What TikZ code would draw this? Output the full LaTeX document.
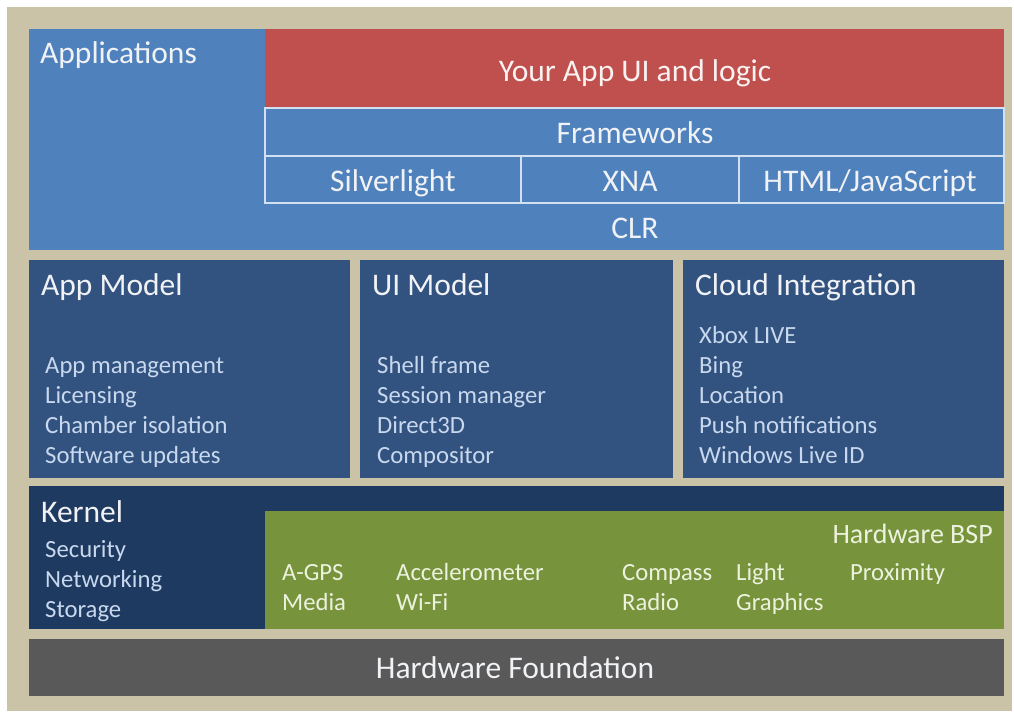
\documentclass[tikz,border=0pt]{standalone}
\usepackage{fontspec}
\setmainfont{Carlito}
\definecolor{beige}{RGB}{202,195,168}
\definecolor{appblue}{RGB}{79,129,189}
\definecolor{appred}{RGB}{192,80,77}
\definecolor{midblue}{RGB}{50,82,128}
\definecolor{kernblue}{RGB}{31,58,96}
\definecolor{bspgreen}{RGB}{119,147,60}
\definecolor{hwgray}{RGB}{89,89,89}
\definecolor{headtxt}{RGB}{240,242,245}
\definecolor{itemtxt}{RGB}{200,216,238}
\definecolor{greentxt}{RGB}{236,242,222}
\definecolor{gridline}{RGB}{210,225,242}
\begin{document}
\begin{tikzpicture}[x=1pt,y=-1pt,
  block/.style={draw=none,inner sep=0pt,outer sep=0pt,anchor=north west},
  cell/.style={draw=gridline,line width=1.5pt,fill=appblue,inner sep=0pt,outer sep=0pt,anchor=north west},
  head/.style={inner sep=0pt,text=headtxt,font=\fontsize{31.5}{36}\selectfont},
  item/.style={inner sep=0pt,anchor=base west,text=itemtxt,font=\fontsize{24.7}{30}\selectfont},
  gitem/.style={inner sep=0pt,anchor=base west,text=greentxt,font=\fontsize{24.7}{30}\selectfont}]
\useasboundingbox (0,0) rectangle (1014,713);
\fill[white] (0,0) rectangle (1014,713);
\fill[beige] (7,7) rectangle (1012,711);
% Applications layer
\node[block,fill=appblue,minimum width=975pt,minimum height=221pt] (apps) at (29,29) {};
\node[block,fill=appred,minimum width=739pt,minimum height=78pt] (yourapp) at (265,29) {};
\node[cell,minimum width=739pt,minimum height=48pt] (fw) at (265,108) {};
\node[cell,minimum width=256pt,minimum height=47pt] (sl) at (265,156) {};
\node[cell,minimum width=218pt,minimum height=47pt] (xna) at (521,156) {};
\node[cell,minimum width=265pt,minimum height=47pt] (html) at (739,156) {};
\node[head,anchor=base west] (tapps) at (40,63) {Applications};
\node[head,anchor=base,text=white!92!appred] (tyour) at (635,81) {Your App UI and logic};
\node[head,anchor=base] (tfw) at (635,143) {Frameworks};
\node[head,anchor=base] (tsl) at (393,191) {Silverlight};
\node[head,anchor=base] (txna) at (630,191) {XNA};
\node[head,anchor=base] (thtml) at (870,191) {HTML/JavaScript};
\node[head,anchor=base] (tclr) at (635,238) {CLR};
% Middle layer
\node[block,fill=midblue,minimum width=321pt,minimum height=218pt] (appmodel) at (29,260) {};
\node[block,fill=midblue,minimum width=313pt,minimum height=218pt] (uimodel) at (360,260) {};
\node[block,fill=midblue,minimum width=321pt,minimum height=218pt] (cloud) at (683,260) {};
\node[head,anchor=base west] (tappmodel) at (41,295) {App Model};
\node[item] (am1) at (45,373) {App management};
\node[item] (am2) at (45,403) {Licensing};
\node[item] (am3) at (45,433) {Chamber isolation};
\node[item] (am4) at (45,463) {Software updates};
\node[head,anchor=base west] (tuimodel) at (372,295) {UI Model};
\node[item] (ui1) at (377,373) {Shell frame};
\node[item] (ui2) at (377,403) {Session manager};
\node[item] (ui3) at (377,433) {Direct3D};
\node[item] (ui4) at (377,463) {Compositor};
\node[head,anchor=base west] (tcloud) at (695,295) {Cloud Integration};
\node[item] (cl1) at (699,343) {Xbox LIVE};
\node[item] (cl2) at (699,373) {Bing};
\node[item] (cl3) at (699,403) {Location};
\node[item] (cl4) at (699,433) {Push notifications};
\node[item] (cl5) at (699,463) {Windows Live ID};
% Kernel layer
\node[block,fill=kernblue,minimum width=975pt,minimum height=143pt] (kernel) at (29,486) {};
\node[block,fill=bspgreen,minimum width=739pt,minimum height=118pt] (bsp) at (265,511) {};
\node[head,anchor=base west] (tkernel) at (41,522) {Kernel};
\node[item] (k1) at (45,557) {Security};
\node[item] (k2) at (45,587) {Networking};
\node[item] (k3) at (45,617) {Storage};
\node[head,anchor=base east,text=greentxt,font=\fontsize{28}{32}\selectfont] (tbsp) at (993,543) {Hardware BSP};
\node[gitem] (g1) at (282,580) {A-GPS};
\node[gitem] (g2) at (282,610) {Media};
\node[gitem] (g3) at (396,580) {Accelerometer};
\node[gitem] (g4) at (396,610) {Wi-Fi};
\node[gitem] (g5) at (622,580) {Compass};
\node[gitem] (g6) at (622,610) {Radio};
\node[gitem] (g7) at (736,580) {Light};
\node[gitem] (g8) at (736,610) {Graphics};
\node[gitem] (g9) at (850,580) {Proximity};
% Hardware foundation
\node[block,fill=hwgray,minimum width=975pt,minimum height=57pt] (hw) at (29,639) {};
\node[head,anchor=base] (thw) at (515,678) {Hardware Foundation};
\end{tikzpicture}
\end{document}
